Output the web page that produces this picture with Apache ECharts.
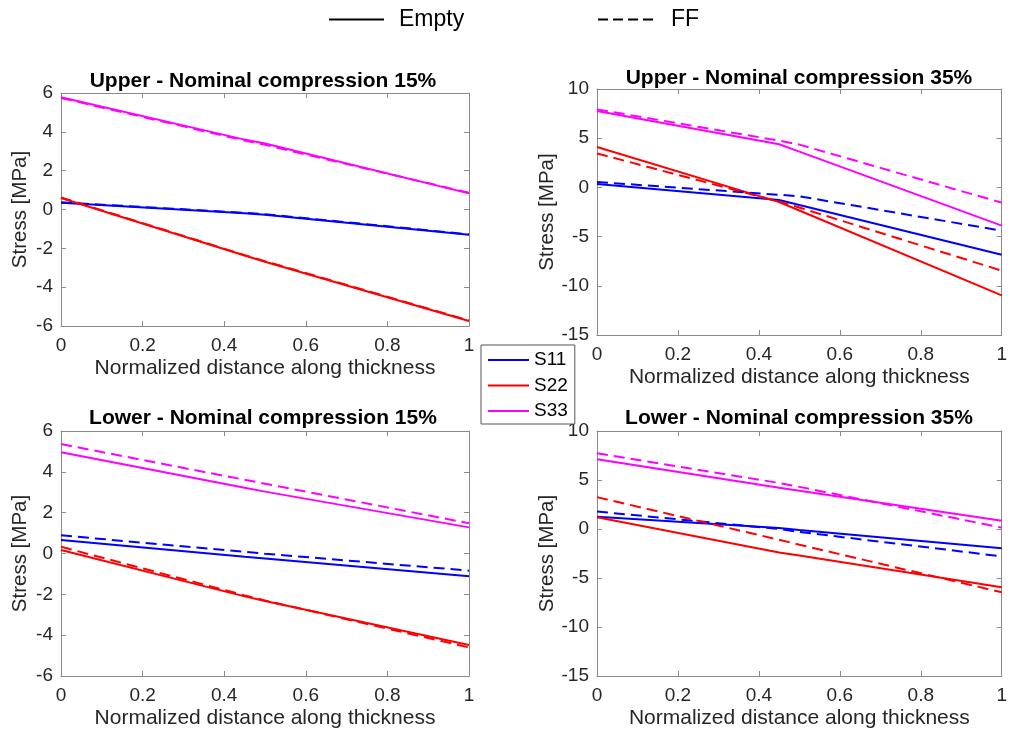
<!DOCTYPE html>
<html>
<head>
<meta charset="utf-8">
<script src="https://cdn.jsdelivr.net/npm/echarts@6/dist/echarts.min.js"></script>
<style>
  html, body { margin: 0; padding: 0; background: #fff; }
  #main { width: 1010px; height: 734px; }
</style>
</head>
<body>
<div id="main"></div>
<script>
// normalized distance along thickness, same sample points for every curve
const xPts = [0, 0.45, 0.5, 1];

const titles = [
  'Upper - Nominal compression 15%',
  'Upper - Nominal compression 35%',
  'Lower - Nominal compression 15%',
  'Lower - Nominal compression 35%'
];
const yMin = [-6, -15, -6, -15];
const yMax = [6, 10, 6, 10];
const yStep = [2, 5, 2, 5];

// Upper 15%
const u15_S11 = [0.35, -0.19, -0.27, -1.30];
const u15_S22 = [0.59, -2.37, -2.69, -5.74];
const u15_S33 = [5.78, 3.60, 3.40, 0.83];
const u15_S11_ff = [0.37, -0.17, -0.24, -1.28];
const u15_S22_ff = [0.62, -2.35, -2.66, -5.72];
const u15_S33_ff = [5.74, 3.55, 3.33, 0.86];

// Upper 35%
const u35_S11 = [0.35, -1.28, -1.79, -6.84];
const u35_S22 = [4.10, -1.50, -2.35, -10.97];
const u35_S33 = [7.76, 4.38, 3.63, -3.89];
const u35_S11_ff = [0.55, -0.75, -0.90, -4.40];
const u35_S22_ff = [3.45, -1.45, -2.05, -8.46];
const u35_S33_ff = [7.93, 4.75, 4.35, -1.55];

// Lower 15%
const l15_S11 = [0.66, -0.16, -0.24, -1.12];
const l15_S22 = [0.17, -2.10, -2.33, -4.48];
const l15_S33 = [4.96, 3.22, 3.03, 1.28];
const l15_S11_ff = [0.89, 0.08, -0.01, -0.84];
const l15_S22_ff = [0.33, -2.05, -2.30, -4.60];
const l15_S33_ff = [5.36, 3.61, 3.42, 1.48];

// Lower 35%
const l35_S11 = [1.24, 0.10, -0.10, -1.97];
const l35_S22 = [1.19, -2.40, -2.70, -5.95];
const l35_S33 = [7.12, 4.22, 3.91, 0.85];
const l35_S11_ff = [1.78, 0.00, -0.30, -2.79];
const l35_S22_ff = [3.25, -1.10, -1.60, -6.46];
const l35_S33_ff = [7.72, 4.70, 4.30, 0.14];

const solidSets = [
  [u15_S11, u15_S22, u15_S33],
  [u35_S11, u35_S22, u35_S33],
  [l15_S11, l15_S22, l15_S33],
  [l35_S11, l35_S22, l35_S33]
];
const dashSets = [
  [u15_S11_ff, u15_S22_ff, u15_S33_ff],
  [u35_S11_ff, u35_S22_ff, u35_S33_ff],
  [l15_S11_ff, l15_S22_ff, l15_S33_ff],
  [l35_S11_ff, l35_S22_ff, l35_S33_ff]
];
const compNames = ['S11', 'S22', 'S33'];
const compColors = ['#0000ff', '#ff0000', '#ff00ff'];

const FONT = "'Liberation Sans', Arial, Helvetica, sans-serif";
const AXIS_GRAY = '#8a8a8a';
const TEXT_DARK = '#262626';

const grids = [
  { left: 61, top: 93, width: 408, height: 233 },
  { left: 597, top: 89, width: 407, height: 246 },
  { left: 61, top: 431, width: 408, height: 245 },
  { left: 597, top: 431, width: 407, height: 245 }
];
const titlePos = [[258, 66], [794, 63], [258, 403], [794, 403]];
const yNameGap = [30, 39, 30, 39];

let xAxes = [];
let yAxes = [];
let series = [];

for (let i = 0; i < 4; i++) {
  // bottom x axis with labels
  xAxes.push({
    type: 'value', gridIndex: i, min: 0, max: 1, interval: 0.2,
    position: 'bottom',
    name: 'Normalized distance along thickness',
    nameLocation: 'middle', nameGap: 32,
    nameTextStyle: { fontSize: 21, color: TEXT_DARK, fontFamily: FONT },
    axisLine: { show: true, onZero: false, lineStyle: { color: AXIS_GRAY, width: 1 } },
    axisTick: { show: true, inside: true, length: 5, lineStyle: { color: AXIS_GRAY } },
    axisLabel: { fontSize: 19, color: TEXT_DARK, margin: 10, fontFamily: FONT,
      formatter: v => String(Math.round(v * 10) / 10) },
    splitLine: { show: false }
  });
  // top x axis, box only
  xAxes.push({
    type: 'value', gridIndex: i, min: 0, max: 1, interval: 0.2,
    position: 'top',
    axisLine: { show: true, onZero: false, lineStyle: { color: AXIS_GRAY, width: 1 } },
    axisTick: { show: true, inside: true, length: 5, lineStyle: { color: AXIS_GRAY } },
    axisLabel: { show: false },
    splitLine: { show: false }
  });
  yAxes.push({
    type: 'value', gridIndex: i, min: yMin[i], max: yMax[i], interval: yStep[i],
    position: 'left',
    name: 'Stress [MPa]',
    nameLocation: 'middle', nameGap: yNameGap[i],
    nameTextStyle: { fontSize: 20.5, color: TEXT_DARK, fontFamily: FONT },
    axisLine: { show: true, onZero: false, lineStyle: { color: AXIS_GRAY, width: 1 } },
    axisTick: { show: true, inside: true, length: 5, lineStyle: { color: AXIS_GRAY } },
    axisLabel: { fontSize: 19, color: TEXT_DARK, margin: 8, fontFamily: FONT },
    splitLine: { show: false }
  });
  yAxes.push({
    type: 'value', gridIndex: i, min: yMin[i], max: yMax[i], interval: yStep[i],
    position: 'right',
    axisLine: { show: true, onZero: false, lineStyle: { color: AXIS_GRAY, width: 1 } },
    axisTick: { show: true, inside: true, length: 5, lineStyle: { color: AXIS_GRAY } },
    axisLabel: { show: false },
    splitLine: { show: false }
  });

  for (let k = 0; k < 3; k++) {
    series.push({
      name: compNames[k], type: 'line',
      xAxisIndex: i * 2, yAxisIndex: i * 2,
      data: xPts.map((x, j) => [x, solidSets[i][k][j]]),
      symbol: 'none', animation: false,
      color: compColors[k],
      lineStyle: { color: compColors[k], width: 2, type: 'solid' }
    });
  }
  for (let k = 0; k < 3; k++) {
    series.push({
      name: compNames[k] + ' FF', type: 'line',
      xAxisIndex: i * 2, yAxisIndex: i * 2,
      data: xPts.map((x, j) => [x, dashSets[i][k][j]]),
      symbol: 'none', animation: false,
      color: compColors[k],
      lineStyle: { color: compColors[k], width: 2, type: [11, 6] }
    });
  }
}

// legend-only entries for the line styles
series.push({
  name: 'Empty', type: 'line', xAxisIndex: 0, yAxisIndex: 0, data: [],
  symbol: 'none', color: '#000', lineStyle: { color: '#000', width: 2, type: 'solid' }
});
series.push({
  name: 'FF', type: 'line', xAxisIndex: 0, yAxisIndex: 0, data: [],
  symbol: 'none', color: '#000', lineStyle: { color: '#000', width: 2, type: [10, 5] }
});

const option = {
  backgroundColor: '#fff',
  animation: false,
  textStyle: { fontFamily: FONT },
  title: titles.map((t, i) => ({
    text: t,
    left: titlePos[i][0], top: titlePos[i][1],
    textAlign: 'center',
    textStyle: { fontSize: 21, fontWeight: 'bold', color: '#000', fontFamily: FONT }
  })),
  legend: [
    {
      data: ['Empty'], left: 328, top: 8, padding: 0, itemWidth: 55, itemHeight: 14,
      itemStyle: { opacity: 0 },
      textStyle: { fontSize: 23, color: '#000', fontFamily: FONT, padding: [0, 0, 0, 10] },
      selectedMode: false
    },
    {
      data: ['FF'], left: 597, top: 8, padding: 0, itemWidth: 55, itemHeight: 14,
      itemStyle: { opacity: 0 },
      textStyle: { fontSize: 23, color: '#000', fontFamily: FONT, padding: [0, 0, 0, 13] },
      selectedMode: false
    },
    {
      data: compNames, orient: 'vertical', left: 481, top: 345,
      itemWidth: 41, itemHeight: 14, itemGap: 5.5,
      padding: [5, 7, 3, 6],
      itemStyle: { opacity: 0 },
      backgroundColor: '#fff', borderColor: '#555', borderWidth: 1,
      textStyle: { fontSize: 19, lineHeight: 20, color: '#000', fontFamily: FONT },
      selectedMode: false, z: 10
    }
  ],
  grid: grids,
  xAxis: xAxes,
  yAxis: yAxes,
  series: series
};

const chart = echarts.init(document.getElementById('main'), null, { renderer: 'canvas' });
chart.setOption(option);
</script>
</body>
</html>
